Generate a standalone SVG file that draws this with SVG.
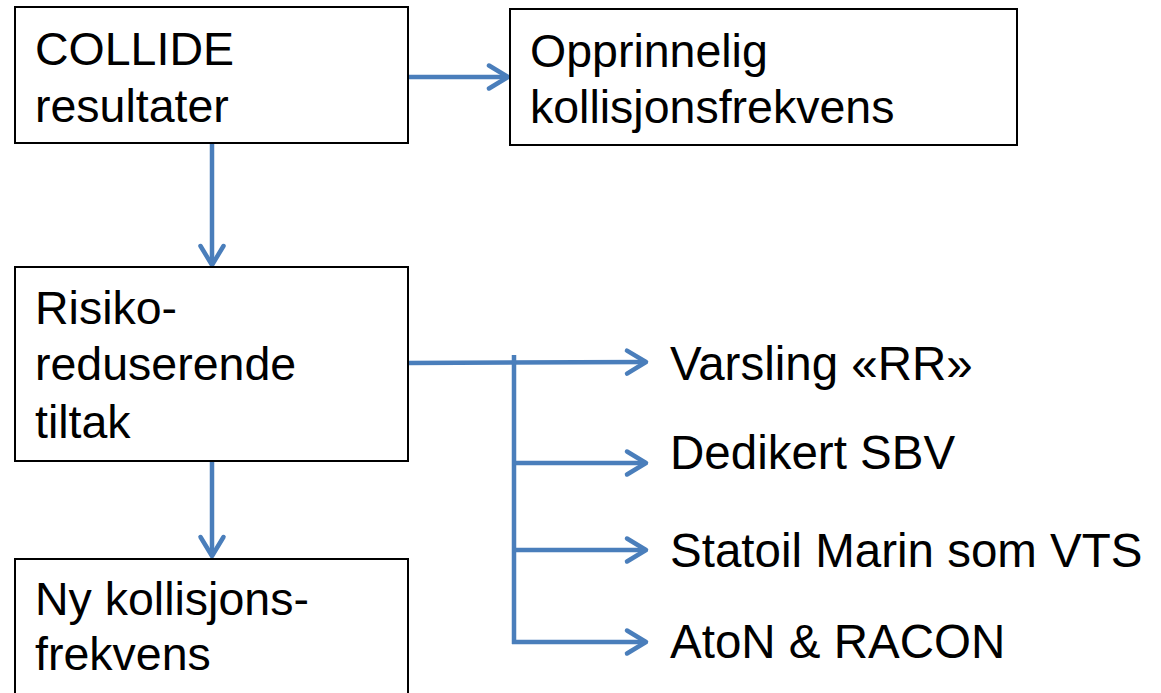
<svg xmlns="http://www.w3.org/2000/svg" width="1161" height="693" viewBox="0 0 1161 693">
  <style>
    .box { fill: #ffffff; stroke: #000000; stroke-width: 2; }
    .lbl { font-family: "Liberation Sans", Arial, sans-serif; font-size: 46.5px; fill: #000000; }
    .item { font-size: 47.5px; }
    .wire { fill: none; stroke: #4A7EBB; stroke-width: 4.5; stroke-linecap: butt; }
  </style>
  <defs>
    <marker id="chev" markerUnits="userSpaceOnUse" viewBox="-24 -15 28 30" markerWidth="28" markerHeight="30" refX="0" refY="0" orient="auto">
      <path d="M-19,-11.5 L0,0 L-19,11.5" fill="none" stroke="#4A7EBB" stroke-width="4.5" stroke-linecap="round" stroke-linejoin="round"/>
    </marker>
  </defs>

  <rect width="1161" height="693" fill="#ffffff"/>

  <g id="connectors">
    <line class="wire" x1="405" y1="77" x2="508" y2="77" marker-end="url(#chev)"/>
    <line class="wire" x1="212" y1="143" x2="212" y2="265" marker-end="url(#chev)"/>
    <line class="wire" x1="212" y1="461" x2="212" y2="556" marker-end="url(#chev)"/>
    <line class="wire" x1="408" y1="363" x2="646" y2="362" marker-end="url(#chev)"/>
    <line class="wire" x1="514" y1="355" x2="514" y2="644"/>
    <line class="wire" x1="512" y1="463" x2="646" y2="463" marker-end="url(#chev)"/>
    <line class="wire" x1="512" y1="550" x2="646" y2="550" marker-end="url(#chev)"/>
    <line class="wire" x1="512" y1="642" x2="646" y2="642" marker-end="url(#chev)"/>
  </g>

  <g id="node-collide">
    <rect class="box" x="15" y="7" width="393" height="136"/>
    <text class="lbl" x="35" y="65">COLLIDE</text>
    <text class="lbl" x="35" y="122">resultater</text>
  </g>

  <g id="node-opprinnelig">
    <rect class="box" x="510" y="9" width="507" height="136"/>
    <text class="lbl" x="530" y="67">Opprinnelig</text>
    <text class="lbl" x="530" y="123">kollisjonsfrekvens</text>
  </g>

  <g id="node-tiltak">
    <rect class="box" x="15" y="267" width="393" height="194"/>
    <text class="lbl" x="35" y="324">Risiko-</text>
    <text class="lbl" x="35" y="380">reduserende</text>
    <text class="lbl" x="35" y="438">tiltak</text>
  </g>

  <g id="node-ny">
    <rect class="box" x="15" y="559" width="393" height="150"/>
    <text class="lbl" x="35" y="615">Ny kollisjons-</text>
    <text class="lbl" x="35" y="670">frekvens</text>
  </g>

  <g id="item-varsling">
    <text class="lbl item" x="670" y="380">Varsling «RR»</text>
  </g>
  <g id="item-sbv">
    <text class="lbl item" x="670" y="469">Dedikert SBV</text>
  </g>
  <g id="item-vts">
    <text class="lbl item" x="670" y="567">Statoil Marin som VTS</text>
  </g>
  <g id="item-aton">
    <text class="lbl item" x="670" y="658">AtoN &amp; RACON</text>
  </g>
</svg>
